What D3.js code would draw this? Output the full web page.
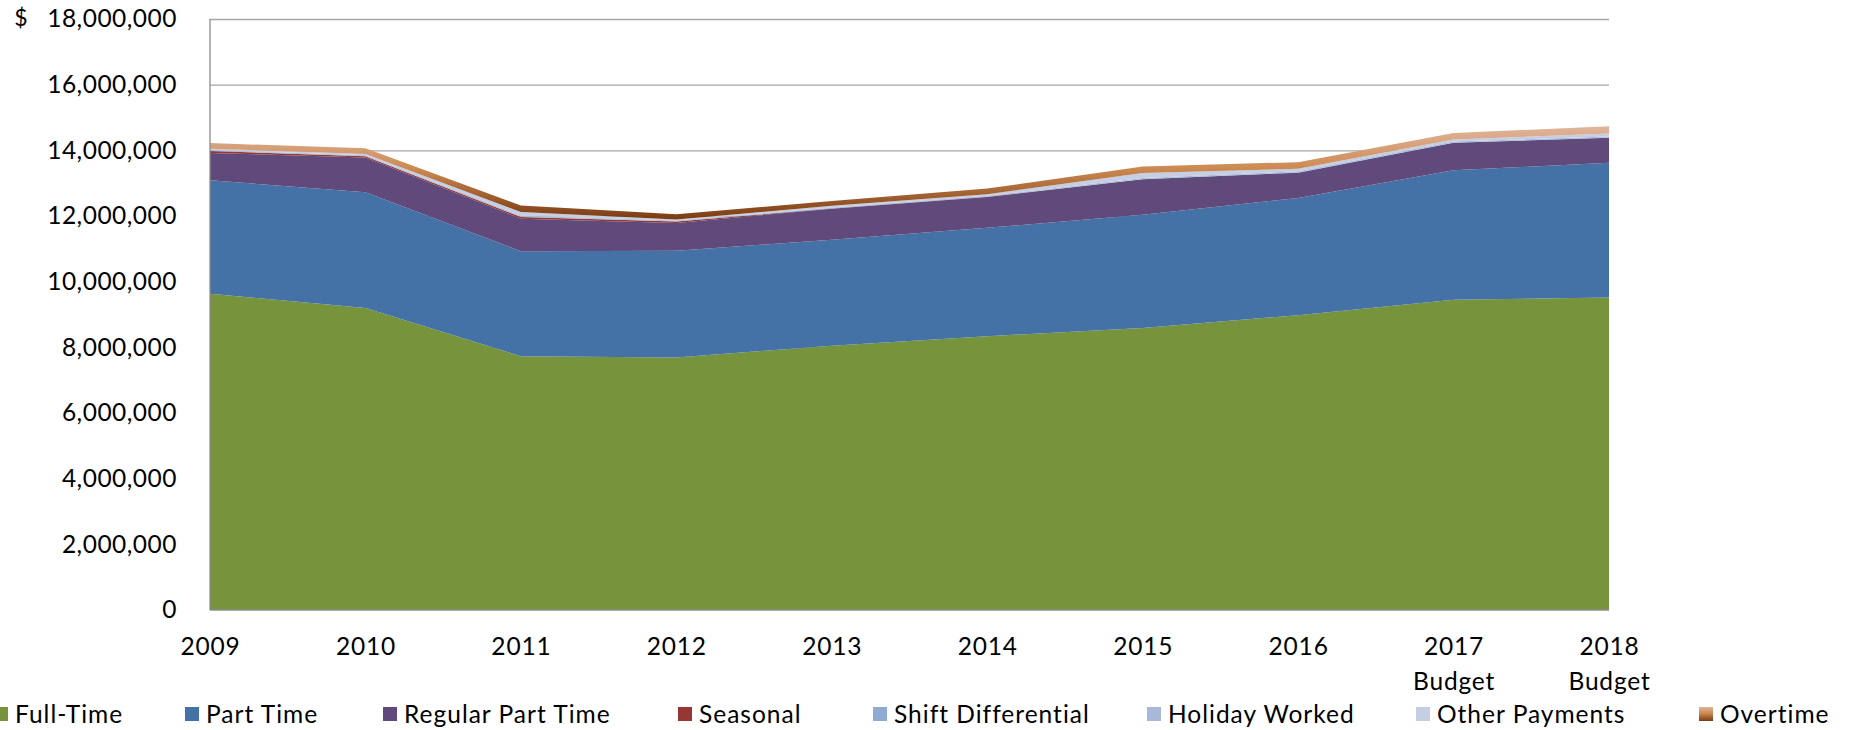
<!DOCTYPE html>
<html>
<head>
<meta charset="utf-8">
<script src="https://cdn.jsdelivr.net/npm/d3@7"></script>
<style>
  body { margin: 0; background: #fff; }
  svg { display: block; font-family: Lato, 'Open Sans', sans-serif; }
  .tick text { fill: #000; }
</style>
</head>
<body>
<script>
// categories on the x axis
const years = ['2009', '2010', '2011', '2012', '2013', '2014', '2015', '2016', '2017 Budget', '2018 Budget'];

// series values in dollars
const fullTime = [9630000, 9200000, 7730000, 7690000, 8050000, 8340000, 8590000, 8980000, 9450000, 9520000];
const partTime = [3460000, 3520000, 3200000, 3250000, 3230000, 3300000, 3450000, 3570000, 3940000, 4100000];
const regularPartTime = [830000, 1060000, 990000, 850000, 940000, 940000, 1080000, 770000, 840000, 760000];
const seasonal = [60000, 40000, 50000, 40000, 10000, 5000, 0, 0, 0, 0];
const shiftDifferential = [10000, 10000, 10000, 10000, 10000, 10000, 10000, 10000, 10000, 10000];
const holidayWorked = [20000, 20000, 30000, 20000, 20000, 20000, 30000, 30000, 30000, 30000];
const otherPayments = [40000, 40000, 110000, 30000, 50000, 50000, 150000, 80000, 60000, 90000];
const overtime = [170000, 170000, 200000, 160000, 150000, 170000, 200000, 200000, 200000, 220000];

const seriesNames = ['Full-Time', 'Part Time', 'Regular Part Time', 'Seasonal', 'Shift Differential', 'Holiday Worked', 'Other Payments', 'Overtime'];
const seriesValues = [fullTime, partTime, regularPartTime, seasonal, shiftDifferential, holidayWorked, otherPayments, overtime];
const colors = ['#77933c', '#4472a6', '#604a7b', '#953735', '#8faad3', '#a7b8d9', '#c6cee4', 'url(#otGrad)'];

const yTicks = [0, 2000000, 4000000, 6000000, 8000000, 10000000, 12000000, 14000000, 16000000, 18000000];

const w = 1850, h = 730;
const pLeft = 210, pRight = 1609, pTop = 19, pBottom = 610;

const rows = years.map((y, i) => {
  const r = { year: y };
  seriesNames.forEach((n, j) => { r[n] = seriesValues[j][i]; });
  return r;
});

const stacked = d3.stack().keys(seriesNames)(rows);

const xScale = d3.scalePoint().domain(years).range([pLeft, pRight]);
const yScale = d3.scaleLinear().domain([0, 18000000]).range([pBottom, pTop]);

const svg = d3.select('body').append('svg').attr('width', w).attr('height', h);

const defs = svg.append('defs');
const grad = defs.append('linearGradient').attr('id', 'otGrad').attr('x1', 0).attr('y1', 0).attr('x2', 0).attr('y2', 1);
grad.append('stop').attr('offset', '0%').attr('stop-color', '#dfb59c');
grad.append('stop').attr('offset', '45%').attr('stop-color', '#cc8a52');
grad.append('stop').attr('offset', '100%').attr('stop-color', '#7a3a12');

// gridlines
svg.append('g')
   .attr('transform', 'translate(' + pLeft + ',0)')
   .call(d3.axisLeft(yScale).tickValues(yTicks.slice(1)).tickSize(-(pRight - pLeft)).tickFormat(''))
   .call(g => g.select('.domain').remove())
   .call(g => g.selectAll('line').attr('stroke', '#a6a6a6').attr('stroke-width', 1.3));

const area = d3.area()
  .x(d => xScale(d.data.year))
  .y0(d => yScale(d[0]))
  .y1(d => yScale(d[1]));

svg.append('g').selectAll('path')
   .data(stacked)
   .enter()
   .append('path')
   .attr('d', area)
   .attr('fill', (d, i) => colors[i]);

// axis lines
svg.append('line').attr('x1', pLeft).attr('x2', pLeft).attr('y1', pTop).attr('y2', pBottom).attr('stroke', '#8c8c8c').attr('stroke-width', 1.3);
svg.append('line').attr('x1', pLeft).attr('x2', pRight).attr('y1', pBottom).attr('y2', pBottom).attr('stroke', '#8c8c8c').attr('stroke-width', 1.3);

const yAxis = d3.axisLeft(yScale).tickValues(yTicks).tickSize(0).tickPadding(33).tickFormat(d3.format(','));
svg.append('g')
   .attr('transform', 'translate(' + pLeft + ',0)')
   .call(yAxis)
   .call(g => g.select('.domain').remove())
   .call(g => g.selectAll('text').style('font-size', '24.5px').style('letter-spacing', '0.5px'))
   .attr('font-family', null);

svg.append('text').text('$').attr('x', 21).attr('y', pTop).attr('dy', '0.32em')
   .attr('text-anchor', 'middle').style('font-size', '23px');

const xAxis = d3.axisBottom(xScale).tickSize(0).tickPadding(0).tickFormat('');
const xg = svg.append('g').attr('transform', 'translate(0,' + pBottom + ')').call(xAxis).attr('font-family', null);
xg.select('.domain').remove();
xg.selectAll('.tick').each(function(d) {
  const t = d3.select(this).append('text')
    .attr('text-anchor', 'middle')
    .style('font-size', '24.5px')
    .style('letter-spacing', '0.8px')
    .attr('fill', '#000');
  d.split(' ').forEach((part, k) => {
    t.append('tspan').attr('x', 0).attr('y', 45 + k * 35).text(part);
  });
});

// legend
const legendX = [-6, 185, 383, 678, 873, 1147, 1416, 1699];
const legend = svg.append('g').attr('transform', 'translate(0,714)');
const item = legend.selectAll('g')
  .data(seriesNames)
  .enter()
  .append('g')
  .attr('transform', (d, i) => 'translate(' + legendX[i] + ',0)');
item.append('rect')
  .attr('x', 0).attr('y', -7).attr('width', 14).attr('height', 14)
  .attr('fill', (d, i) => colors[i]);
item.append('text')
  .attr('x', 21).attr('y', 0).attr('dy', '0.35em')
  .style('font-size', '24.5px')
  .style('letter-spacing', '1px')
  .text(d => d);
</script>
</body>
</html>
